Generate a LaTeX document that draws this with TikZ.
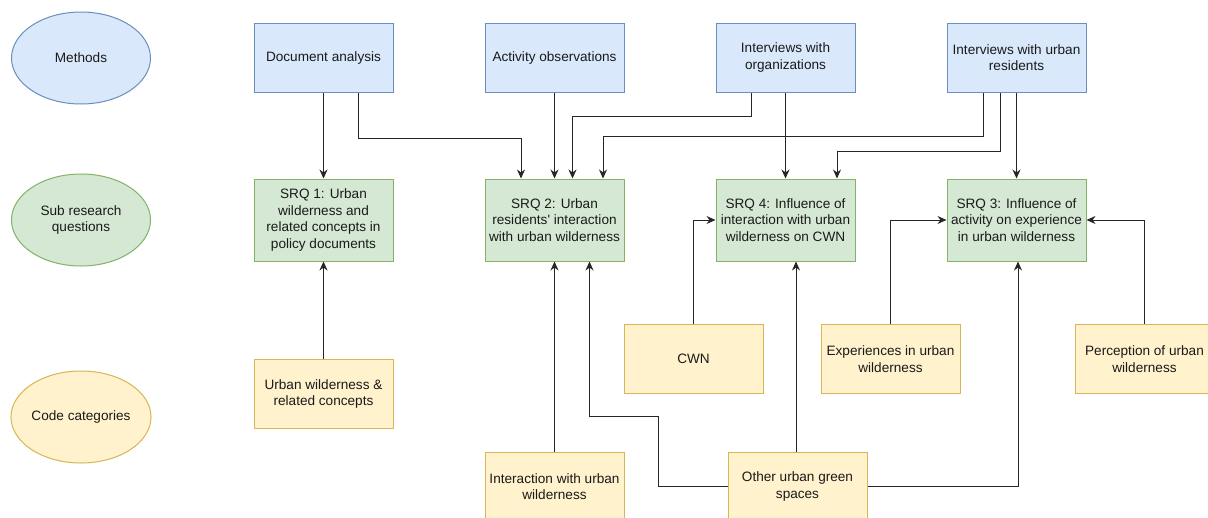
\documentclass[tikz,border=0pt]{standalone}
\usepackage{fontspec}
\setmainfont{Liberation Sans}[Ligatures=TeXOff]
\usetikzlibrary{arrows.meta,shapes.geometric}
\definecolor{bfill}{HTML}{DAE8FC}\definecolor{bline}{HTML}{6C8EBF}
\definecolor{gfill}{HTML}{D5E8D4}\definecolor{gline}{HTML}{82B366}
\definecolor{yfill}{HTML}{FFF2CC}\definecolor{yline}{HTML}{D6B656}
\definecolor{txt}{HTML}{1A1A1A}
\tikzset{
  basebox/.style={rectangle,minimum width=139pt,align=center,inner sep=0pt,line width=1pt,
    text=txt,font=\fontsize{13.6}{16.5}\selectfont},
  methodbox/.style={basebox,draw=bline,fill=bfill,minimum height=69pt},
  srqbox/.style={basebox,draw=gline,fill=gfill,minimum height=82pt},
  codebox/.style={basebox,draw=yline,fill=yfill,minimum height=69pt},
  legend/.style={ellipse,minimum width=139pt,minimum height=92pt,inner sep=0pt,align=center,
    line width=1pt,text=txt,font=\fontsize{13.6}{16.5}\selectfont},
  conn/.style={line width=1pt,draw=black!85,-{Stealth[length=9pt,width=8pt]}},
}
\begin{document}
\begin{tikzpicture}[x=1pt,y=-1pt]
\useasboundingbox (0,0) rectangle (1208,517);
\clip (0,0) rectangle (1208,517);
\fill[white] (0,0) rectangle (1208,517);
% legend ellipses
\node[legend,draw=bline,fill=bfill] (m) at (81,58) {Methods};
\node[legend,draw=gline,fill=gfill] (sq) at (81,220) {Sub research\\questions};
\node[legend,draw=yline,fill=yfill] (cc) at (81,417) {Code categories};
% methods
\node[methodbox] (da) at (323.5,57.5) {Document analysis};
\node[methodbox] (ao) at (554.5,57.5) {Activity observations};
\node[methodbox] (io) at (785.5,57.5) {Interviews with\\organizations};
\node[methodbox] (ir) at (1016.5,57.5) {Interviews with urban\\residents};
% sub research questions
\node[srqbox] (s1) at (323.5,220) {SRQ 1: Urban\\wilderness and\\related concepts in\\policy documents};
\node[srqbox] (s2) at (554.5,220) {SRQ 2: Urban\\residents' interaction\\with urban wilderness};
\node[srqbox] (s4) at (785.5,220) {SRQ 4: Influence of\\interaction with urban\\wilderness on CWN};
\node[srqbox] (s3) at (1016.5,220) {SRQ 3: Influence of\\activity on experience\\in urban wilderness};
% code categories
\node[codebox] (uw) at (323.5,394) {Urban wilderness \&\\related concepts};
\node[codebox] (cwn) at (693.5,359) {CWN};
\node[codebox] (exp) at (890.5,359) {Experiences in urban\\wilderness};
\node[codebox] (per) at (1144.5,359) {Perception of urban\\wilderness};
\node[codebox] (inter) at (554.5,486.5) {Interaction with urban\\wilderness};
\node[codebox] (other) at (797.5,486.5) {Other urban green\\spaces};
% connectors from methods
\draw[conn] (da.south) -- (s1.north);
\draw[conn] ([xshift=34.5pt]da.south) -- ++(0,46) -| ([xshift=-33.5pt]s2.north);
\draw[conn] (ao.south) -- (s2.north);
\draw[conn] ([xshift=-34pt]io.south) -- ++(0,24) -| ([xshift=18pt]s2.north);
\draw[conn] (io.south) -- (s4.north);
\draw[conn] ([xshift=-33.5pt]ir.south) -- ++(0,44) -| ([xshift=48.5pt]s2.north);
\draw[conn] ([xshift=-16.5pt]ir.south) -- ++(0,59) -| ([xshift=51.5pt]s4.north);
\draw[conn] (ir.south) -- (s3.north);
% connectors from code categories
\draw[conn] (uw.north) -- (s1.south);
\draw[conn] (inter.north) -- (s2.south);
\draw[conn] (other.west) -- ++(-69,0) -- ++(0,-70) -| ([xshift=35pt]s2.south);
\draw[conn] ([xshift=-1.5pt]other.north) -- ([xshift=-1.5pt]other.north |- s4.south);
\draw[conn] (other.east) -| ([xshift=1.5pt]s3.south);
\draw[conn] (cwn.north) |- (s4.west);
\draw[conn] (exp.north) |- (s3.west);
\draw[conn] (per.north) |- (s3.east);
\end{tikzpicture}
\end{document}
